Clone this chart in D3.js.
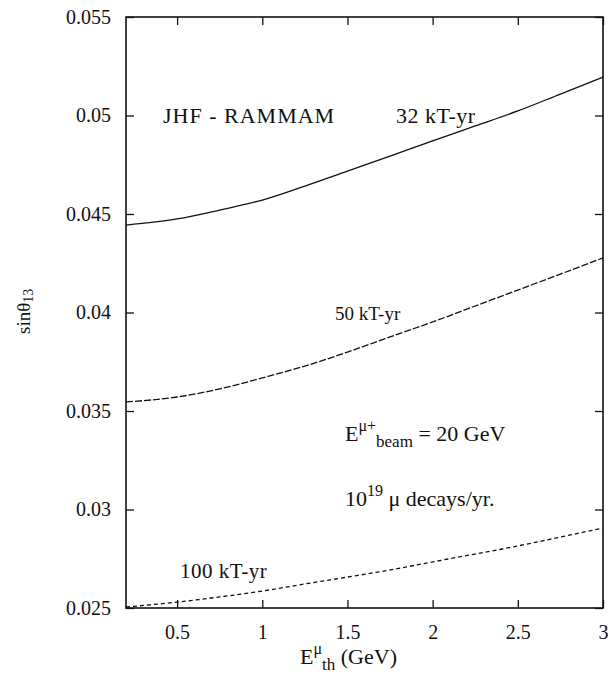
<!DOCTYPE html>
<html>
<head>
<meta charset="utf-8">
<script src="https://cdn.jsdelivr.net/npm/d3@7"></script>
<style>
  html, body { margin: 0; padding: 0; background: #fff; }
  svg text { font-family: "Liberation Serif", "DejaVu Serif", serif; fill: #111; }
</style>
</head>
<body>
<svg id="chart" width="608" height="684"></svg>
<script>
// Threshold muon energy (GeV)
const eth = [0.2, 0.5, 0.75, 1.0, 1.25, 1.5, 1.75, 2.0, 2.25, 2.5, 2.75, 3.0];
// sin(theta13) sensitivity reach for each detector exposure
const reach32 = [0.04444, 0.04475, 0.04520, 0.04571, 0.04642, 0.04718, 0.04794, 0.04871, 0.04947, 0.05023, 0.05109, 0.05195];
const reach50 = [0.03546, 0.03571, 0.03612, 0.03668, 0.03728, 0.03799, 0.03876, 0.03952, 0.04033, 0.04114, 0.04195, 0.04277];
const reach100 = [0.02505, 0.02530, 0.02556, 0.02586, 0.02622, 0.02657, 0.02693, 0.02734, 0.02774, 0.02815, 0.02860, 0.02906];
const xTicks = [0.5, 1, 1.5, 2, 2.5, 3];
const xTickLabels = ["0.5", "1", "1.5", "2", "2.5", "3"];
const yTicks = [0.025, 0.03, 0.035, 0.04, 0.045, 0.05, 0.055];
const yTickLabels = ["0.025", "0.03", "0.035", "0.04", "0.045", "0.05", "0.055"];

const svg = d3.select("#chart");
const L = 126, R = 603, T = 17, B = 608;
const x = d3.scaleLinear().domain([0.2, 3]).range([L, R]);
const y = d3.scaleLinear().domain([0.025, 0.055]).range([B, T]);
const ink = "#111";
const tickLen = 8;

// frame
svg.append("rect").attr("x", L).attr("y", T).attr("width", R - L).attr("height", B - T)
  .attr("fill", "none").attr("stroke", ink).attr("stroke-width", 1.6);

// axes with inward ticks (mirrored on top and right)
const xb = svg.append("g").attr("transform", `translate(0,${B})`)
  .call(d3.axisBottom(x).tickValues(xTicks).tickSize(-tickLen).tickPadding(17)
    .tickFormat((d, i) => xTickLabels[i]));
const xt = svg.append("g").attr("transform", `translate(0,${T})`)
  .call(d3.axisTop(x).tickValues(xTicks).tickSize(-tickLen).tickFormat(""));
const yl = svg.append("g").attr("transform", `translate(${L},0)`)
  .call(d3.axisLeft(y).tickValues(yTicks).tickSize(-tickLen).tickPadding(15)
    .tickFormat((d, i) => yTickLabels[i]));
const yr = svg.append("g").attr("transform", `translate(${R},0)`)
  .call(d3.axisRight(y).tickValues(yTicks).tickSize(-tickLen).tickFormat(""));
[xb, xt, yl, yr].forEach(g => {
  g.select(".domain").remove();
  g.selectAll(".tick line").attr("stroke", ink).attr("stroke-width", 1.3);
  g.selectAll(".tick text").attr("font-size", 20).style("font-family", "Liberation Serif, serif").attr("fill", ink);
});

// curves
const line = d3.line().x((d, i) => x(eth[i])).y(d => y(d)).curve(d3.curveMonotoneX);
const curves = [
  { data: reach32, dash: null },
  { data: reach50, dash: "7,2" },
  { data: reach100, dash: "4,3" }
];
svg.append("g").selectAll("path").data(curves).join("path")
  .attr("d", d => line(d.data))
  .attr("fill", "none").attr("stroke", ink).attr("stroke-width", 1.3)
  .attr("stroke-dasharray", d => d.dash);

// annotations
function label(tx, ty, txt, size, spacing) {
  svg.append("text").attr("x", tx).attr("y", ty).attr("font-size", size)
    .attr("letter-spacing", spacing || 0).text(txt);
}
label(163, 123, "JHF - RAMMAM", 22, 1);
label(396, 123, "32 kT-yr", 22, 0.5);
label(335, 320, "50 kT-yr", 19, 0);
label(180, 578, "100 kT-yr", 21, 0.5);

const beam = svg.append("text").attr("x", 345).attr("y", 441).attr("font-size", 22);
beam.append("tspan").text("E");
beam.append("tspan").attr("font-size", 16).attr("dy", -10).text("μ+");
beam.append("tspan").attr("font-size", 17).attr("dy", 16).text("beam");
beam.append("tspan").attr("dy", -6).text(" = 20 GeV");

const dec = svg.append("text").attr("x", 345).attr("y", 506).attr("font-size", 22);
dec.append("tspan").text("10");
dec.append("tspan").attr("font-size", 16).attr("dy", -10).text("19");
dec.append("tspan").attr("dy", 10).text(" μ decays/yr.");

// x axis title
const xt2 = svg.append("text").attr("x", 300).attr("y", 664).attr("font-size", 22);
xt2.append("tspan").text("E");
xt2.append("tspan").attr("font-size", 16).attr("dy", -10).text("μ");
xt2.append("tspan").attr("font-size", 17).attr("dy", 16).text("th");
xt2.append("tspan").attr("dy", -6).text(" (GeV)");

// y axis title
const ytl = svg.append("text").attr("transform", "translate(30,334) rotate(-90)").attr("font-size", 19);
ytl.append("tspan").text("sinθ");
ytl.append("tspan").attr("font-size", 14).attr("dy", 3).text("13");
</script>
</body>
</html>
